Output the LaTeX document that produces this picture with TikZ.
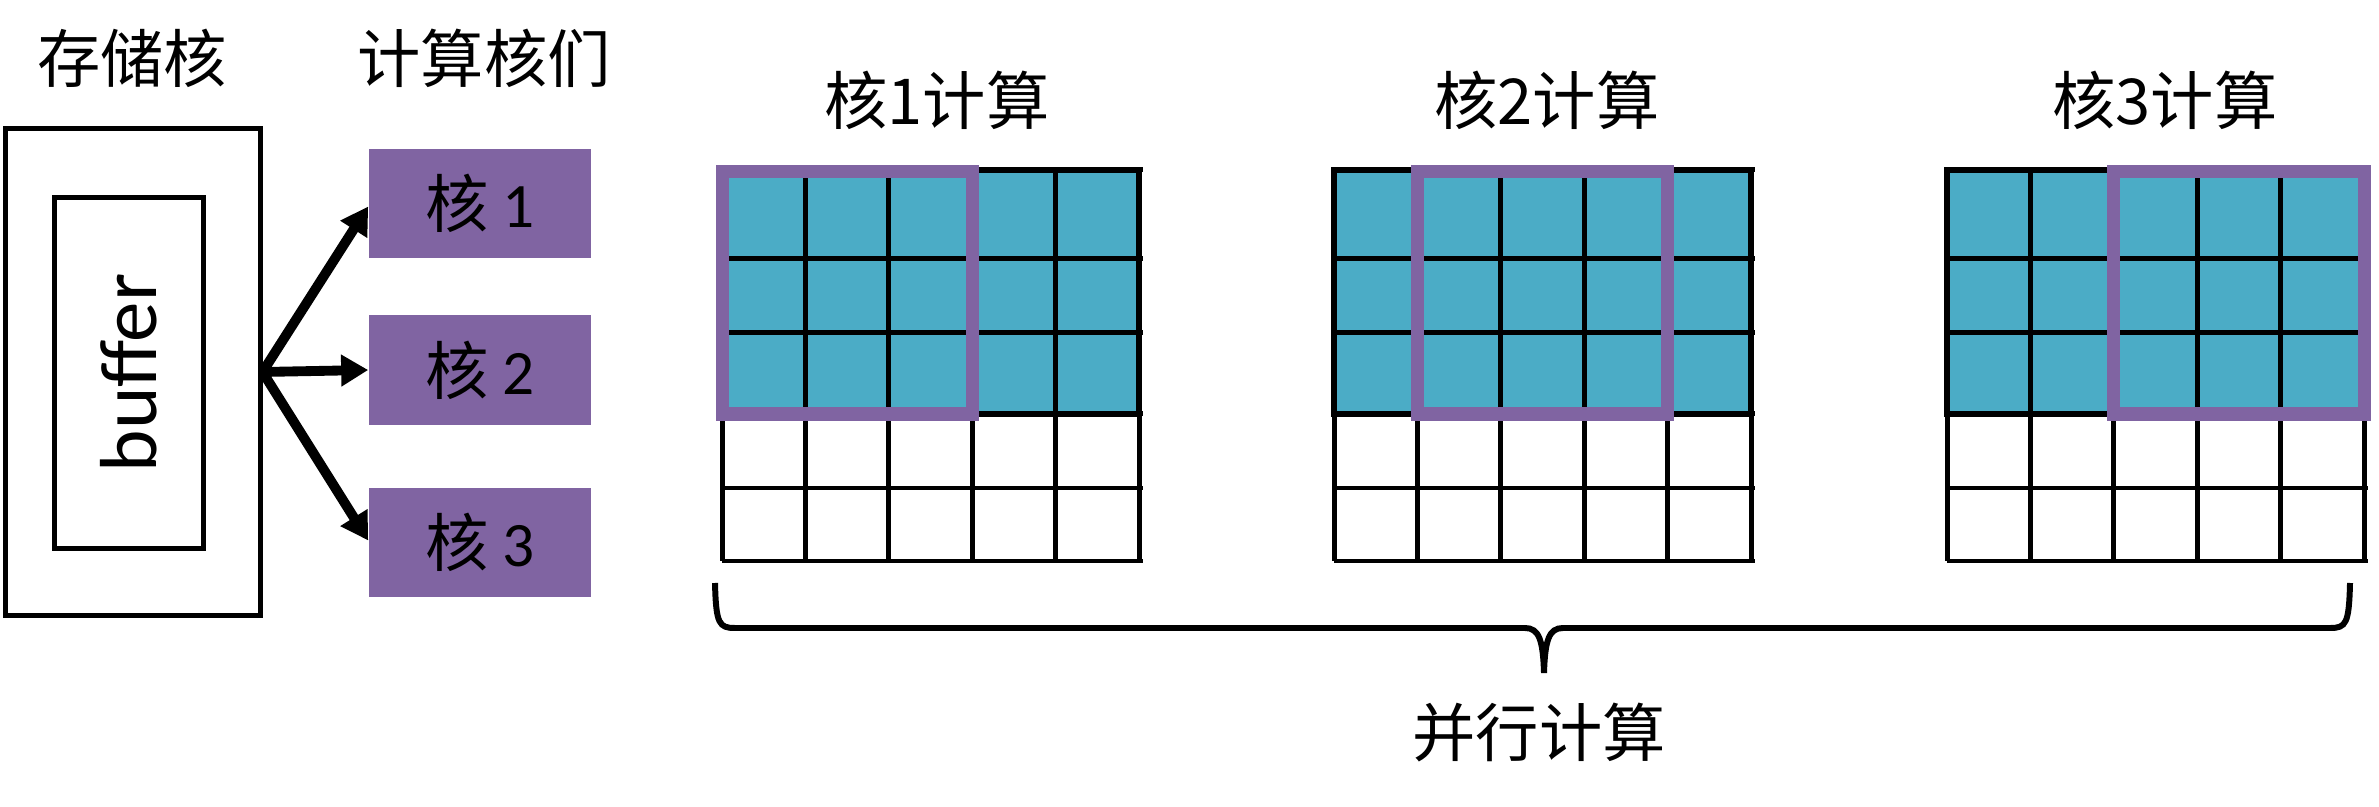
\documentclass[tikz,border=0pt]{standalone}
\usepackage{fontspec}
\setmainfont{Carlito}
\newfontfamily\cjk{Noto Sans CJK SC}
\usetikzlibrary{arrows.meta, positioning}
\definecolor{CoreViolet}{RGB}{128,100,162}
\definecolor{TileTeal}{RGB}{75,172,198}

\begin{document}
\begin{tikzpicture}[
            x=0.01cm, y=-0.01cm,
            node distance=0.56cm,
            title/.style={font=\fontsize{18}{21}\selectfont\cjk, inner sep=0pt},
            corebox/.style={
                fill=CoreViolet,
                minimum width=2.22cm,
                minimum height=1.09cm,
                inner sep=0pt,
                font=\fontsize{18}{21}\selectfont
            },
            framebox/.style={draw, line width=1.42pt, inner sep=0pt},
            arrow/.style={-{Triangle[length=7.7pt, width=8.6pt]}, line width=2.8pt},
            gridline/.style={line width=1.42pt},
            tilefill/.style={fill=TileTeal, draw=black, line width=1.85pt},
            window/.style={draw=CoreViolet, line width=3.7pt},
            bracket/.style={line width=1.7pt}
        ]
            \useasboundingbox (0,0) rectangle (2379,807);

            % storage core and compute cores
            \node[title] (storetitle) at (132,58) {存储核};
            \node[title] (coretitle) at (484,58) {计算核们};
            \node[framebox, minimum width=2.54cm, minimum height=4.86cm] (store) at (133,372) {};
            \node[framebox, rotate=90, minimum width=3.51cm, minimum height=1.49cm,
                  font=\fontsize{23}{26}\selectfont] (buf) at (129,373) {buffer};
            \node[corebox] (core2) at (480,370) {{\cjk 核} 2};
            \node[corebox, above=of core2] (core1) {{\cjk 核} 1};
            \node[corebox, below=0.62cm of core2] (core3) {{\cjk 核} 3};

            \draw[arrow] (store.east) -- ([yshift=-0.03cm]core1.west);
            \draw[arrow] (store.east) -- (core2.west);
            \draw[arrow] (store.east) -- ([yshift=0.02cm]core3.west);

            % the three tile grids
            \foreach \gx/\px/\tx [count=\g] in {722/0/937, 1334/1/1547, 1947/2/2165} {
                \node[title] (calc\g) at (\tx,100) {核\g{}计算};
                \draw[tilefill] (\gx,170) rectangle (\gx+417,414);
                \foreach \i in {0,...,5}
                    \draw[gridline] (\gx+\i*83.4,170) -- (\gx+\i*83.4,561);
                \foreach \y in {170,259,333,414,488,561}
                    \draw[gridline] (\gx,\y) -- (\gx+421,\y);
                \draw[window] (\gx+\px*83.4,172) rectangle (\gx+\px*83.4+250.2,414);
            }

            % brace
            \draw[bracket] (715,583) .. controls (716,624) and (719,628) .. (735,628)
                -- (1525,628) .. controls (1539,628) and (1543,640) .. (1544,673)
                .. controls (1545,640) and (1549,628) .. (1563,628)
                -- (2330,628) .. controls (2346,628) and (2349,624) .. (2350,583);
            \node[title] (parallel) at (1539,733) {并行计算};
        \end{tikzpicture}
\end{document}
